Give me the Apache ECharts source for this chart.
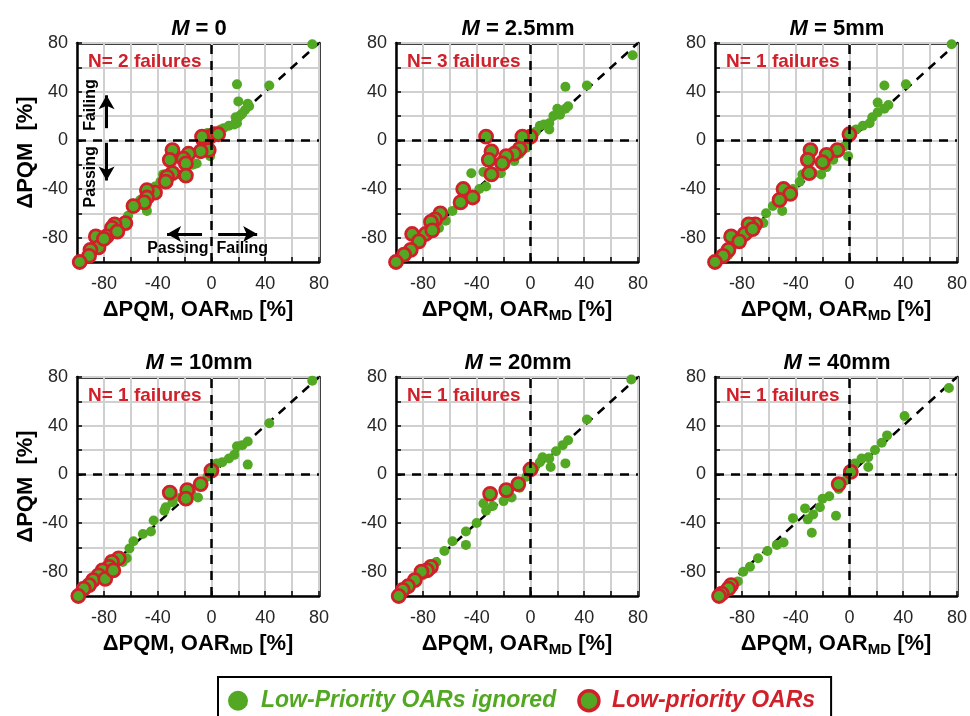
<!DOCTYPE html>
<html>
<head>
<meta charset="utf-8">
<title>PQM scatter</title>
<script src="https://cdn.jsdelivr.net/npm/echarts@6/dist/echarts.min.js"></script>
<style>
  html, body { margin: 0; padding: 0; background: #fff; }
  #main { width: 970px; height: 716px; }
</style>
</head>
<body>
<div id="main"></div>
<script>
// panel titles and failure counts
var margins = ['0', '2.5mm', '5mm', '10mm', '20mm', '40mm']
var failures = [2, 3, 1, 1, 1, 1]

// identity line y = x
var identityLine = [[-100, -100], [80, 80]]

// M = 0
var ignored0 = [[75, 79], [43, 45], [19, 46], [20, 32], [27, 30], [25, 25], [22, 21], [20, 19], [19, 14], [17, 13], [13, 12],
  [9, 10], [7, 9], [4, 7], [2, 6], [28, 28], [23, 22], [18, 19], [-3, 6], [-8, 3], [-1, -13], [-11, -19], [-14, -20],
  [-19, -26], [-23, -28], [-27, -27], [-36, -28], [-38, -34], [-42, -38], [-48, -44], [-48, -58], [-53, -49], [-59, -52],
  [-62, -62], [-63, -69], [-68, -70], [-75, -77], [-83, -85], [-88, -91], [-94, -97], [-98, -100]]
var lowPri0 = [[-1, 3], [2, 5], [5, 5], [-6, 0], [-7, 3], [-2, -8], [-8, -9], [-17, -11], [-21, -15], [-19, -19], [-19, -29],
  [-29, -8], [-31, -16], [-29, -27], [-33, -30], [-34, -34], [-42, -43], [-48, -41], [-48, -47], [-50, -51], [-58, -54],
  [-64, -68], [-72, -69], [-74, -72], [-78, -79], [-86, -79], [-84, -88], [-90, -90], [-91, -95], [-98, -100], [-80, -81],
  [-70, -75]]

// M = 2.5mm
var ignored1 = [[76, 70], [42, 45], [26, 44], [28, 28], [26, 26], [20, 26], [22, 21], [17, 20], [14, 14], [10, 13], [7, 12],
  [4, 7], [14, 9], [2, 3], [-2, -2], [-3, -6], [-8, -11], [-12, -17], [-19, -20], [-22, -27], [-28, -28], [-35, -26],
  [-44, -27], [-38, -40], [-33, -38], [-43, -47], [-53, -52], [-58, -58], [-63, -66], [-68, -72], [-75, -77], [-83, -84],
  [-90, -92], [-98, -99]]
var lowPri1 = [[0, 3], [-6, 3], [-33, 3], [-8, -7], [-12, -11], [-18, -13], [-21, -19], [-29, -9], [-31, -16], [-29, -28],
  [-50, -40], [-43, -47], [-52, -51], [-67, -60], [-71, -65], [-74, -67], [-78, -77], [-88, -77], [-83, -83], [-89, -90],
  [-94, -94], [-100, -100], [-73, -74]]

// M = 5mm
var ignored2 = [[76, 79], [42, 46], [26, 45], [29, 29], [26, 26], [21, 31], [21, 23], [17, 19], [15, 14], [10, 12], [5, 9],
  [2, 6], [-1, 1], [-4, -5], [-1, -13], [-8, -9], [-12, -16], [-17, -22], [-21, -28], [-27, -27], [-35, -28], [-37, -34],
  [-42, -40], [-50, -58], [-57, -54], [-62, -60], [-64, -68], [-69, -70], [-75, -77], [-82, -85], [-90, -94], [-99, -99]]
var lowPri2 = [[0, 5], [-9, -8], [-17, -12], [-20, -18], [-29, -8], [-31, -16], [-30, -27], [-49, -40], [-44, -44],
  [-52, -49], [-70, -69], [-75, -69], [-78, -77], [-88, -79], [-82, -83], [-90, -90], [-94, -95], [-100, -100], [-72, -73]]

// M = 10mm
var ignored3 = [[75, 77], [43, 42], [27, 27], [23, 24], [19, 23], [27, 8], [17, 16], [13, 13], [8, 10], [4, 9], [1, 3],
  [-3, -2], [-7, -9], [-10, -19], [-15, -15], [-23, -19], [-29, -23], [-35, -30], [-34, -27], [-43, -38], [-45, -47],
  [-51, -49], [-58, -55], [-61, -61], [-63, -69], [-66, -72], [-73, -76], [-79, -80], [-86, -87], [-91, -92], [-99, -100]]
var lowPri3 = [[0, 3], [-8, -8], [-18, -13], [-19, -20], [-31, -15], [-69, -69], [-74, -72], [-76, -76], [-81, -79],
  [-84, -83], [-88, -87], [-91, -91], [-95, -94], [-99, -100], [-79, -86], [-73, -79]]

// M = 20mm
var ignored4 = [[75, 78], [42, 45], [28, 28], [24, 24], [19, 19], [26, 9], [14, 13], [9, 14], [7, 10], [15, 6], [3, 5],
  [-3, -2], [-8, -11], [-14, -19], [-20, -22], [-28, -26], [-33, -30], [-35, -24], [-40, -40], [-48, -47], [-48, -58],
  [-58, -55], [-64, -63], [-70, -72], [-75, -77], [-80, -83], [-86, -87], [-91, -92], [-98, -100]]
var lowPri4 = [[0, 4], [-9, -8], [-18, -13], [-30, -16], [-74, -76], [-77, -79], [-81, -80], [-86, -87], [-91, -92],
  [-95, -95], [-98, -100]]

// M = 40mm
var ignored5 = [[74, 71], [41, 48], [28, 32], [24, 26], [19, 20], [14, 14], [9, 13], [14, 6], [4, 9], [2, 3], [-3, -5],
  [-8, -12], [-10, -34], [-15, -18], [-20, -20], [-22, -27], [-27, -33], [-31, -37], [-28, -48], [-33, -28], [-42, -36],
  [-49, -56], [-54, -58], [-61, -63], [-68, -69], [-74, -76], [-79, -80], [-83, -88], [-88, -92], [-96, -100]]
var lowPri5 = [[1, 2], [-8, -8], [-88, -91], [-90, -94], [-95, -98], [-97, -100]]

var ignoredSets = [ignored0, ignored1, ignored2, ignored3, ignored4, ignored5]
var lowPriSets = [lowPri0, lowPri1, lowPri2, lowPri3, lowPri4, lowPri5]

var FONT = '"Liberation Sans", Arial, Helvetica, sans-serif'
var GREEN = '#53A823'
var RED = '#D0202A'
var colLeft = [77, 396, 715]
var rowTop = [43, 377]
var gw = 242
var gh = 219

var chart = echarts.init(document.getElementById('main'))

var grids = []
var xAxes = []
var yAxes = []
var series = []
var titles = []

function tickLabel (v) {
  return v % 40 === 0 ? String(v) : ''
}

// fresh style objects for every axis
function boxLine () {
  return { show: true, onZero: false, lineStyle: { color: '#000', width: 2.5 } }
}
function inTick () {
  return { show: true, inside: true, length: 5, lineStyle: { color: '#000', width: 1.5 } }
}
function gridLine () {
  return { show: true, lineStyle: { color: '#d0d0d0', width: 2, type: 'solid', opacity: 1 } }
}
function dash () {
  return { color: '#000', width: 2.5, type: [9, 7] }
}

for (var i = 0; i < 6; i++) {
  var r = Math.floor(i / 3)
  var c = i % 3
  grids.push({ left: colLeft[c], top: rowTop[r], width: gw, height: gh })

  // bottom + top x axes
  xAxes.push({
    gridIndex: i, type: 'value', min: -100, max: 80, interval: 20, position: 'bottom',
    axisLine: boxLine(), axisTick: inTick(), splitLine: gridLine(),
    axisLabel: { margin: 13, color: '#262626', fontSize: 18, fontFamily: FONT, formatter: tickLabel },
    name: '{n|ΔPQM, OAR}{s|MD}{n| [%]}', nameLocation: 'middle', nameGap: 35,
    nameTextStyle: {
      rich: {
        n: { fontSize: 22, fontWeight: 'bold', color: '#000', fontFamily: FONT, lineHeight: 26 },
        s: { fontSize: 15, fontWeight: 'bold', color: '#000', fontFamily: FONT, lineHeight: 15, padding: [12, 0, 0, 0] }
      }
    },
    z: 1
  })
  xAxes.push({
    gridIndex: i, type: 'value', min: -100, max: 80, interval: 20, position: 'top',
    axisLine: boxLine(), axisTick: inTick(), splitLine: { show: false }, axisLabel: { show: false }
  })

  // left + right y axes
  yAxes.push({
    gridIndex: i, type: 'value', min: -100, max: 80, interval: 20, position: 'left',
    axisLine: boxLine(), axisTick: inTick(), splitLine: gridLine(),
    axisLabel: { margin: 9, color: '#262626', fontSize: 18, fontFamily: FONT, formatter: tickLabel },
    name: c === 0 ? 'ΔPQM  [%]' : '', nameLocation: 'middle', nameGap: 40,
    nameTextStyle: { fontSize: 22, fontWeight: 'bold', color: '#000', fontFamily: FONT },
    z: 1
  })
  yAxes.push({
    gridIndex: i, type: 'value', min: -100, max: 80, interval: 20, position: 'right',
    axisLine: boxLine(), axisTick: inTick(), splitLine: { show: false }, axisLabel: { show: false }
  })

  titles.push({
    text: '{i|M}{b| = ' + margins[i] + '}',
    left: colLeft[c] + gw / 2 - 4, top: rowTop[r] - 30, textAlign: 'center',
    textStyle: {
      rich: {
        i: { fontSize: 22, fontWeight: 'bold', fontStyle: 'italic', color: '#000', fontFamily: FONT },
        b: { fontSize: 22, fontWeight: 'bold', color: '#000', fontFamily: FONT }
      }
    }
  })
  titles.push({
    text: 'N= ' + failures[i] + ' failures',
    left: colLeft[c] + 6, top: rowTop[r] + 4,
    textStyle: { fontSize: 19, fontWeight: 'bold', color: RED, fontFamily: FONT }
  })

  var diag = {
    type: 'line', xAxisIndex: 2 * i, yAxisIndex: 2 * i, data: identityLine,
    symbol: 'none', lineStyle: dash(), z: 2, silent: true,
    markLine: {
      silent: true, symbol: 'none', label: { show: false }, lineStyle: dash(),
      data: [{ xAxis: 0 }, { yAxis: 0 }]
    }
  }
  if (i === 0) {
    // passing / failing annotations in the first panel
    var arrow = { color: '#000', width: 3, type: 'solid' }
    diag.markLine.data = diag.markLine.data.concat([
      [{ coord: [-78, 10], symbol: 'none', lineStyle: arrow }, { coord: [-78, 37], symbol: 'arrow', symbolSize: [12, 14], lineStyle: arrow }],
      [{ coord: [-78, -2], symbol: 'none', lineStyle: arrow }, { coord: [-78, -33], symbol: 'arrow', symbolSize: [12, 14], lineStyle: arrow }],
      [{ coord: [-7, -77], symbol: 'none', lineStyle: arrow }, { coord: [-33, -77], symbol: 'arrow', symbolSize: [12, 14], lineStyle: arrow }],
      [{ coord: [5, -77], symbol: 'none', lineStyle: arrow }, { coord: [34, -77], symbol: 'arrow', symbolSize: [12, 14], lineStyle: arrow }]
    ])
    var txt = { show: true, position: 'inside', formatter: '{b}', color: '#000', fontSize: 16, fontWeight: 'bold', fontFamily: FONT }
    diag.markPoint = {
      silent: true, symbol: 'circle', symbolSize: 0,
      data: [
        { name: 'Failing', coord: [-90, 29], label: Object.assign({}, txt, { rotate: 90 }) },
        { name: 'Passing', coord: [-90, -30], label: Object.assign({}, txt, { rotate: 90 }) },
        { name: 'Passing', coord: [-25, -89], label: txt },
        { name: 'Failing', coord: [23, -89], label: txt }
      ]
    }
  }
  series.push(diag)

  series.push({
    name: 'Low-Priority OARs ignored', type: 'scatter', xAxisIndex: 2 * i, yAxisIndex: 2 * i,
    data: ignoredSets[i], symbolSize: 10, itemStyle: { color: GREEN, opacity: 1 }, z: 3
  })
  series.push({
    name: 'Low-priority OARs', type: 'scatter', xAxisIndex: 2 * i, yAxisIndex: 2 * i,
    data: lowPriSets[i], symbolSize: 13, itemStyle: { color: GREEN, borderColor: RED, borderWidth: 2.8, opacity: 1 }, z: 4
  })
}

chart.setOption({
  animation: false,
  backgroundColor: '#fff',
  title: titles,
  grid: grids,
  xAxis: xAxes,
  yAxis: yAxes,
  legend: {
    left: 218, top: 677,
    selectedMode: false,
    borderColor: '#000', borderWidth: 2,
    padding: [12, 16, 20, 10],
    itemWidth: 20, itemHeight: 20, itemGap: 21,
    textStyle: { fontSize: 23, fontWeight: 'bold', fontStyle: 'italic', fontFamily: FONT, padding: [0, 0, 0, 8] },
    data: [
      { name: 'Low-Priority OARs ignored', icon: 'circle', itemStyle: { color: GREEN, borderWidth: 0 }, textStyle: { color: GREEN } },
      { name: 'Low-priority OARs', icon: 'circle', itemStyle: { color: GREEN, borderColor: RED, borderWidth: 3.5 }, textStyle: { color: RED } }
    ]
  },
  series: series
})
</script>
</body>
</html>
